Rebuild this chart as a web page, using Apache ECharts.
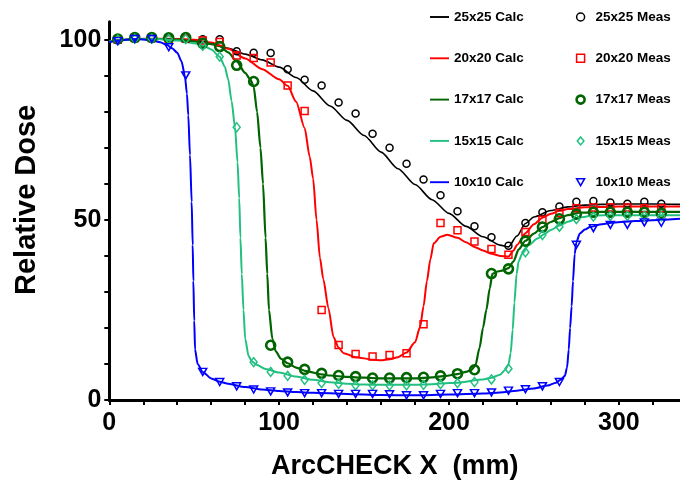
<!DOCTYPE html>
<html><head><meta charset="utf-8">
<script src="https://cdn.jsdelivr.net/npm/echarts@6/dist/echarts.min.js"></script>
<style>html,body{margin:0;padding:0;background:#fff}#c{width:680px;height:485px}</style>
</head><body><div id="c"></div>
<script>
const FONT = "'Liberation Sans', Arial, sans-serif";
const measX = [5,15,25,35,45,55,65,75,85,95,105,115,125,135,145,155,165,175,185,195,205,215,225,235,245,255,265,275,285,295,305,315,325];
const meas25 = [100.0,100.5,100.3,100.2,100.4,100.1,100.1,96.8,96.4,96.3,91.8,88.9,87.3,82.6,79.5,73.9,70.0,65.6,61.2,56.8,52.4,48.2,45.2,42.8,49.1,52.1,53.7,55.0,55.2,54.8,54.5,55.0,54.5];
const meas20 = [100,100.5,100.5,100.3,100.3,99.8,99.4,95.6,94.9,93.7,87.3,80.2,25.0,15.3,12.8,12.1,12.5,13.0,21.0,49.1,47.1,44.0,41.9,40.3,46.6,50.0,51.9,53.2,53.4,53.4,53.4,53.2,53.2];
const meas17 = [100.2,100.6,100.6,100.5,100.6,99.0,98.1,92.9,88.4,15.2,10.5,8.5,7.4,6.8,6.5,6.1,6.1,6.2,6.3,6.7,7.3,8.4,35.1,36.4,44.1,48.0,50.3,51.6,52.1,52.1,52.1,52.1,51.8];
const meas15 = [100,100.3,100.3,100.2,100.2,98.3,95.3,75.7,10.5,7.8,6.7,5.6,4.7,4.5,4.1,4.1,4.0,4.1,4.2,4.4,4.7,5.0,5.7,8.7,41.0,45.8,48.1,50.2,50.9,51.1,51.1,51.1,51.0];
const meas10 = [99.6,100.2,100.2,97.9,90.1,7.8,5.0,3.8,2.9,2.4,2.1,1.9,1.9,1.7,1.7,1.7,1.6,1.3,1.3,1.7,1.9,1.9,2.1,2.6,3.0,3.8,5.0,43.1,47.7,48.6,48.6,49.3,49.2];

const calc25X = [0,10,20,30,40,50,60,70,80,90,100,110,120,130,140,150,160,170,180,190,200,210,220,230,235,240,245,250,260,270,280,290,300,320,336];
const calc25Y = [99.5,100,100.2,100.2,100.2,99.8,99,97.6,96,94.4,92.4,89.5,85.8,81.6,77.6,73.4,68.8,64.2,59.8,55.6,51.8,48.2,45.3,43.0,42.5,45.5,49.0,50.8,52.6,53.6,54.1,54.3,54.4,54.4,54.3];
const calc20X = [0,10,20,30,40,50,60,70,80,90,100,105,110,115,118,120,122,124,126,129,132,135,138,145,155,160,165,170,175,180,183,185,187,189,191,195,199,205,210,215,220,225,230,235,238,240,245,250,255,260,265,270,280,290,300,336];
const calc20Y = [99.5,100,100.3,100.3,100.2,100,99.2,97.5,94.8,91.8,89.0,87.2,82.8,75.5,67.5,61.5,50,39.5,33.5,25.5,17.5,14.5,13.0,11.9,11.2,11.0,11.3,11.9,13.2,16.0,20.3,26,33,39,43.5,45.3,45.9,45.0,43.8,42.5,41.5,40.6,40.0,39.8,41.5,43.0,46.3,48.8,50.6,51.7,52.5,53.0,53.5,53.6,53.7,53.7];
const calc17X = [0,10,20,30,40,50,55,60,65,70,75,80,83,85,87,89,90.5,92,93,94,96,98,101,105,110,116,125,130,140,150,160,170,180,190,198,205,210,213,215.5,218,220,222,224,225.5,228,232,235,238,241,245,250,255,260,265,270,277,290,336];
const calc17Y = [99.5,100,100.2,100.2,100,99.5,99.2,98.8,98.2,96.5,94,90.8,89,87,80,70,60,45,35,25,17,13.5,11.5,10.2,9.0,8.0,7.1,6.8,6.4,6.2,6.0,6.0,6.0,6.3,6.7,7.2,7.8,8.3,9.5,14.5,20,25,31,35,35.6,36.0,36.6,38.5,41.8,44.2,46.2,48.0,49.4,50.5,51.3,52.0,52.2,52.2];
const calc15X = [0,10,20,30,40,50,55,60,65,68,70,72,74,75.5,76.5,77.2,78,79,80,82,84,87,92,100,110,120,130,140,150,160,170,180,190,200,205,210,215,220,225,230,233,235,236.3,237.5,238.5,239.8,241,243,247,252,256,260,265,270,277,285,297,336];
const calc15Y = [99.5,100,100.2,100.1,99.8,99.0,98.4,97.3,95.3,92.5,89,83,75.7,66,56,45,35,25,17,12.2,10.7,9.7,8.6,7.6,6.5,5.6,4.9,4.5,4.3,4.2,4.2,4.2,4.4,4.7,4.8,5.1,5.5,5.7,6.2,7.0,8.3,9.8,13,19.5,27,35,38.5,40.5,43.0,44.8,46.0,47.2,48.4,49.5,50.7,51.2,51.3,51.3];
const calc10X = [0,5,10,17,25,30,34,37,40,42.5,44.5,45.7,46.5,47.5,48.5,49.1,49.5,50,50.5,52,55,60,65,70,80,90,100,110,120,140,160,180,200,220,230,240,250,258,263,266,268.2,269.5,270.5,271.3,272.2,273,274,275,277,280,283,290,297,310,336];
const calc10Y = [99.3,99.7,100,100.2,99.8,99.3,98.5,97.6,96.4,94.0,90,85,79,68,55,43,33,22,14,10,7.8,6.0,5.1,4.5,3.6,2.9,2.5,2.2,2.0,1.7,1.4,1.3,1.5,1.8,2.1,2.6,3.2,4.0,4.8,5.7,6.7,9,14,20,26,33,40.5,43.8,46.2,47.3,48.0,48.8,49.3,49.7,50.3];

const xTicks = [0,20,40,60,80,100,120,140,160,180,200,220,240,260,280,300,320];
const xLabels = [0,100,200,300];
const yTicks = [0,10,20,30,40,50,60,70,80,90,100];
const yLabels = [0,50,100];

const names = ['25x25','20x20','17x17','15x15','10x10'];
const colors = ['#000000','#ff0000','#006400','#22c080','#0000ff'];
const calcXs = [calc25X,calc20X,calc17X,calc15X,calc10X];
const calcYs = [calc25Y,calc20Y,calc17Y,calc15Y,calc10Y];
const measYs = [meas25,meas20,meas17,meas15,meas10];
const calcW = [1.6,2,2.2,2,2];
const symbols = ['circle','rect','circle','diamond','path://M0,0L10,0L5,8.66Z'];
const legendSymbols = ['circle','path://M0,0L10,0L10,10L0,10Z','circle','path://M5,0L10,6L5,12L0,6Z','path://M0,0L10,0L5,8.66Z'];
const symSizes = [7,7,9,[7,9],[8,7]];
const symBorder = [1.5,1.5,2.6,1.5,1.5];

const series = [];
names.forEach((n,i)=>{
  series.push({
    name: n+' Calc', type:'line', symbol:'none', smooth:0.25, smoothMonotone:'x',
    data: calcXs[i].map((x,k)=>[x, calcYs[i][k]]),
    lineStyle:{color:colors[i], width:calcW[i]}, itemStyle:{color:colors[i]}, z:2
  });
});
names.forEach((n,i)=>{
  series.push({
    name: n+' Meas', type:'scatter', symbol:symbols[i], symbolSize:symSizes[i],
    data: measX.map((x,k)=>[x, measYs[i][k]]),
    itemStyle:{color:'rgba(255,255,255,0)', borderColor:colors[i], borderWidth:symBorder[i], opacity:1}, z:3
  });
});

const legendTextCalc = {fontFamily:FONT, fontWeight:'bold', fontSize:13.5, color:'#000', lineHeight:14, padding:[0,0,0,0]};
const legendTextMeas = {fontFamily:FONT, fontWeight:'bold', fontSize:13.5, color:'#000', lineHeight:14, padding:[0,0,0,6]};
const option = {
  animation:false,
  backgroundColor:'#fff',
  grid:{left:109.3, right:0, top:21.7, bottom:77.2, containLabel:false},
  legend:[
    {orient:'vertical', left:425, top:5, itemWidth:19, itemHeight:14, itemGap:27.3,
     data:names.map((n,i)=>({name:n+' Calc', icon:'path://M0,0L20,0L20,2L0,2Z',
       itemStyle:{color:colors[i], borderWidth:0}})),
     textStyle:legendTextCalc, selectedMode:false},
    {orient:'vertical', left:570.3, top:5, itemWidth:8, itemHeight:8, itemGap:27.3,
     data:names.map((n,i)=>({name:n+' Meas', icon:legendSymbols[i],
       itemStyle:{color:'#fff', borderColor:colors[i], borderWidth:symBorder[i]}})),
     textStyle:legendTextMeas, selectedMode:false}
  ],
  xAxis:{type:'value', min:0, max:336,
    name:'ArcCHECK X  (mm)', nameLocation:'middle', nameGap:53,
    nameTextStyle:{fontFamily:FONT, fontWeight:'bold', fontSize:27, color:'#000'},
    axisLine:{show:true, onZero:false, lineStyle:{color:'#000', width:3}},
    axisTick:{show:true, customValues:xTicks, length:5, lineStyle:{color:'#000', width:2}},
    axisLabel:{customValues:xLabels, margin:11, fontFamily:FONT, fontWeight:'bold', fontSize:25, color:'#000'},
    splitLine:{show:false}},
  yAxis:{type:'value', min:0, max:105,
    name:'Relative Dose', nameLocation:'middle', nameGap:68,
    nameTextStyle:{fontFamily:FONT, fontWeight:'bold', fontSize:29, color:'#000', padding:[0,0,0,22]},
    axisLine:{show:true, onZero:false, lineStyle:{color:'#000', width:3}},
    axisTick:{show:true, customValues:yTicks, length:5, lineStyle:{color:'#000', width:2}},
    axisLabel:{customValues:yLabels, margin:8, fontFamily:FONT, fontWeight:'bold', fontSize:25, color:'#000'},
    splitLine:{show:false}},
  series
};
const chart = echarts.init(document.getElementById('c'), null, {renderer:'canvas'});
chart.setOption(option);
</script></body></html>
